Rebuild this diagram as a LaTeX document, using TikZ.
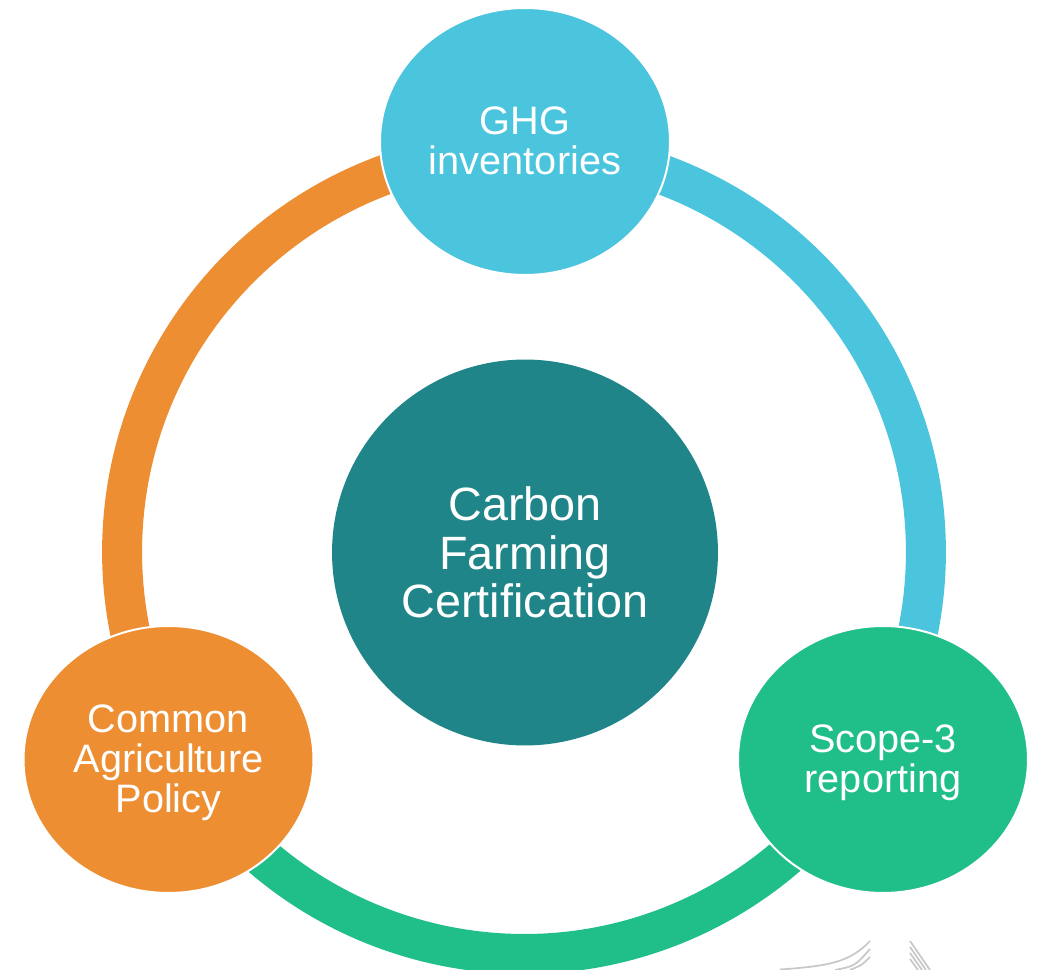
\documentclass[tikz,border=0pt]{standalone}
\usepackage{fontspec}
\setmainfont{Liberation Sans}
\usetikzlibrary{shapes.geometric}
\definecolor{cblue}{HTML}{4BC4DD}
\definecolor{cteal}{HTML}{1F8589}
\definecolor{corange}{HTML}{EE8E32}
\definecolor{cgreen}{HTML}{20BF8A}
\definecolor{cgray}{HTML}{C8C8C8}
\begin{document}
\begin{tikzpicture}[x=0.02cm,y=0.02cm,
  ringarc/.style={line width=0.8cm},
  sat/.style={ellipse, draw=white, line width=0.04cm, minimum width=5.8cm, minimum height=5.34cm, inner sep=0pt},
  sattext/.style={text=white, align=center, inner sep=0pt, font=\fontsize{22.6}{22.8}\selectfont},
  hub/.style={circle, minimum size=7.72cm, inner sep=0pt, fill=cteal, text=white, align=center, font=\fontsize{26.6}{27.5}\selectfont},
  logo/.style={draw=cgray, line width=0.035cm}]
\useasboundingbox (0,0) rectangle (1038,970);
\coordinate (rc) at (524,418);
% ring segments
\draw[ringarc, cblue] (rc) ++(90:8.04cm) arc[start angle=90, end angle=-30, radius=8.04cm];
\draw[ringarc, corange] (rc) ++(90:8.04cm) arc[start angle=90, end angle=210, radius=8.04cm];
\draw[ringarc, cgreen] (rc) ++(210:8.04cm) arc[start angle=210, end angle=330, radius=8.04cm];
% satellites
\node[sat, fill=cblue] (ghg) at (525,828.5) {};
\node[sat, fill=corange] (cap) at (168.5,210.5) {};
\node[sat, fill=cgreen] (scope) at (883,210.5) {};
\node[sattext] (ghgt) at ([yshift=0.02cm]ghg.center) {GHG\\inventories};
\node[sattext] (capt) at ([yshift=-0.07cm]cap.center) {Common\\Agriculture\\Policy};
\node[sattext] (scopet) at ([yshift=-0.06cm]scope.center) {Scope-3\\reporting};
% hub
\node[hub] (hub) at (525,417.5) {Carbon\\Farming\\Certification};
% faint logo fragment
\draw[logo] (780,0.5) .. controls (830,4) and (850,8) .. (870,29);
\draw[logo] (835,0) .. controls (855,4) .. (870,21);
\draw[logo] (850,0) .. controls (862,5) .. (870,13);
\draw[logo] (910,29) -- (930,0);
\draw[logo] (910,23) -- (926,0);
\draw[logo] (910,17) -- (922,0);
\draw[logo] (910,11) -- (918,0);
\end{tikzpicture}
\end{document}
